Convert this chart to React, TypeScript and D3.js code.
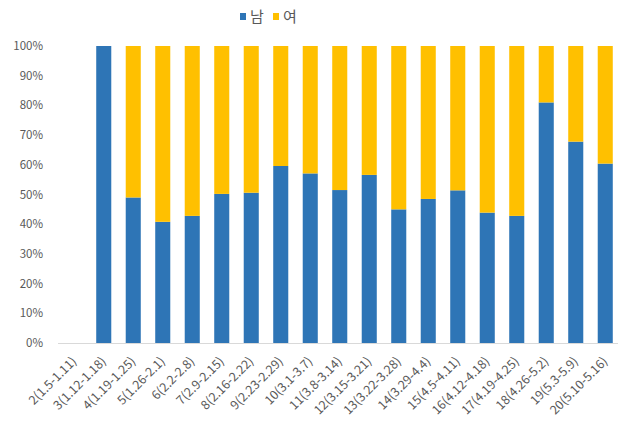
import React, { useRef, useEffect } from "react";
import * as d3 from "d3";

const categories = [
  "2(1.5-1.11)", "3(1.12-1.18)", "4(1.19-1.25)", "5(1.26-2.1)", "6(2.2-2.8)",
  "7(2.9-2.15)", "8(2.16-2.22)", "9(2.23-2.29)", "10(3.1-3.7)", "11(3.8-3.14)",
  "12(3.15-3.21)", "13(3.22-3.28)", "14(3.29-4.4)", "15(4.5-4.11)", "16(4.12-4.18)",
  "17(4.19-4.25)", "18(4.26-5.2)", "19(5.3-5.9)", "20(5.10-5.16)",
];
const male = [0, 100, 49, 40.8, 42.8, 50.2, 50.6, 59.6, 57.1, 51.5, 56.6, 45, 48.5, 51.4, 43.9, 42.8, 81, 67.8, 60.4];
const female = [0, 0, 51, 59.2, 57.2, 49.8, 49.4, 40.4, 42.9, 48.5, 43.4, 55, 51.5, 48.6, 56.1, 57.2, 19, 32.2, 39.6];
const seriesNames = ["남", "여"];
const yTicks = [0, 10, 20, 30, 40, 50, 60, 70, 80, 90, 100];

const colors = ["#2E75B6", "#FFC000"];
const textColor = "#595959";
const font = "'Noto Sans CJK KR', 'Noto Sans', sans-serif";

function App() {
  const svgRef = useRef<SVGSVGElement>(null);

  useEffect(() => {
    const svg = d3.select(svgRef.current);
    svg.selectAll("*").remove();

    const x = d3.scaleBand<string>()
      .domain(categories)
      .range([59.5, 620])
      .paddingInner(0.49)
      .paddingOuter(0.245);

    const y = d3.scaleLinear().domain([0, 100]).range([343, 46]);

    const rows = categories.map((c, i) => ({ cat: c, 남: male[i], 여: female[i] }));
    const stacked = d3.stack<any>().keys(seriesNames)(rows);

    // axis line
    svg.append("line")
      .attr("x1", 58).attr("x2", 618)
      .attr("y1", y(0) + 0.5).attr("y2", y(0) + 0.5)
      .attr("stroke", "#d9d9d9");

    // bars
    svg.append("g")
      .selectAll("g")
      .data(stacked)
      .join("g")
      .attr("fill", (d, i) => colors[i])
      .selectAll("rect")
      .data((d) => d)
      .join("rect")
      .attr("x", (d: any) => x(d.data.cat)!)
      .attr("y", (d) => y(d[1]))
      .attr("height", (d) => y(d[0]) - y(d[1]))
      .attr("width", x.bandwidth());

    // y tick labels
    svg.append("g")
      .selectAll("text")
      .data(yTicks)
      .join("text")
      .attr("x", 43)
      .attr("y", (d) => y(d))
      .attr("dy", "0.35em")
      .attr("text-anchor", "end")
      .attr("font-size", 11.5)
      .attr("font-family", font)
      .attr("fill", textColor)
      .text((d) => d + "%");

    // x labels
    svg.append("g")
      .selectAll("text")
      .data(categories)
      .join("text")
      .attr("transform", (d) => `translate(${x(d)! + x.bandwidth() / 2},${359}) rotate(-45)`)
      .attr("dy", "0.35em")
      .attr("text-anchor", "end")
      .attr("font-size", 12.5)
      .attr("font-family", font)
      .attr("fill", textColor)
      .text((d) => d);

    // legend
    const legend = svg.append("g");
    const lx = [240, 273];
    seriesNames.forEach((name, i) => {
      legend.append("rect")
        .attr("x", lx[i]).attr("y", 13)
        .attr("width", 6).attr("height", 7)
        .attr("fill", colors[i]);
      legend.append("text")
        .attr("x", lx[i] + 10).attr("y", 17)
        .attr("dy", "0.35em")
        .attr("font-size", 15)
        .attr("font-family", font)
        .attr("fill", textColor)
        .text(name);
    });
  }, []);

  return (
    <svg ref={svgRef} width={621} height={422}
      style={{ position: "absolute", left: 0, top: 0, background: "#fff" }} />
  );
}

export default App;
